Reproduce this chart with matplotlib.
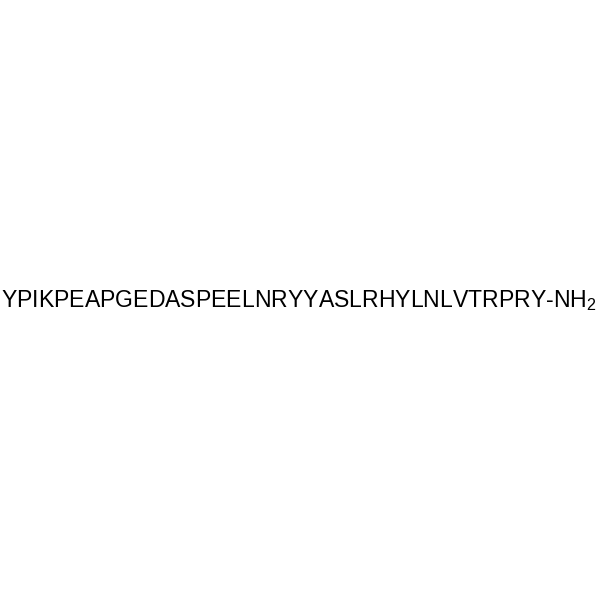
import matplotlib
matplotlib.use("Agg")
import matplotlib.pyplot as plt

# peptide sequence shown in the picture
sequence = "YPIKPEAPGEDASPEELNRYYASLRHYLNLVTRPRY"
c_term = "-NH"
subscript = "2"

plt.rcParams["font.family"] = ["Liberation Sans", "DejaVu Sans"]
plt.rcParams["mathtext.fontset"] = "custom"
plt.rcParams["mathtext.rm"] = "Liberation Sans"
plt.rcParams["mathtext.it"] = "Liberation Sans"

fig = plt.figure(figsize=(6, 6), dpi=100)
fig.patch.set_facecolor("white")

label = sequence + c_term + r"$_{\mathrm{" + subscript + "}}$"
fig.text(0.002, 0.4883, label, ha="left", va="baseline",
         fontsize=16.6, color="black")

fig.savefig("out.png", dpi=100, facecolor="white")
